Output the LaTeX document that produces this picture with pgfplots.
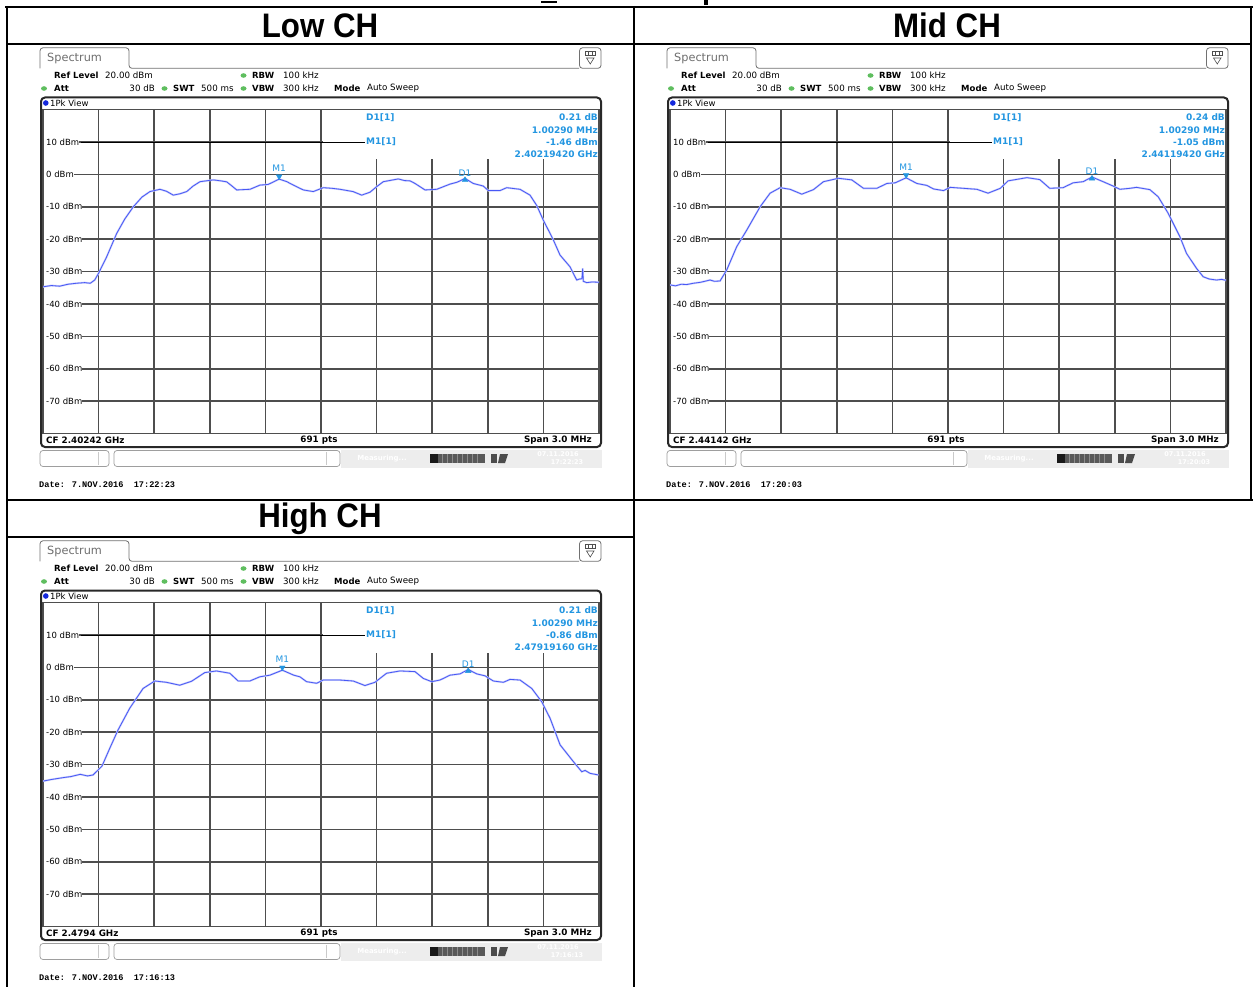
\documentclass[border=0pt]{standalone}
\usepackage{pgfplots}
\pgfplotsset{compat=1.18}
\usepackage{pgfplotstable}
\usepackage{fontspec}
\setmainfont{DejaVu Sans}
\newfontfamily\hdrfont{Liberation Sans}
\newfontfamily\monofont{Liberation Mono}

\definecolor{trace}{RGB}{72,88,245}
\definecolor{mk}{RGB}{35,150,225}
\definecolor{gridc}{RGB}{78,78,78}
\definecolor{led}{RGB}{95,190,95}
\definecolor{framec}{RGB}{40,40,40}
\definecolor{tabtext}{RGB}{110,110,110}
\definecolor{dotblue}{RGB}{20,40,220}

\newcommand\fs[1]{\fontsize{#1}{#1}\selectfont}

% x = division (0..10, 0.3 MHz each), y = level in dBm
\pgfplotstableread{
x y
0.00 -34.7
0.15 -34.3
0.30 -34.5
0.45 -33.9
0.60 -33.6
0.75 -33.4
0.85 -33.6
0.93 -32.6
1.00 -30.5
1.146 -25.4
1.326 -18.2
1.47 -13.8
1.624 -10.0
1.78 -7.0
1.924 -5.3
2.104 -4.6
2.22 -5.2
2.343 -6.4
2.46 -6.0
2.585 -5.3
2.70 -3.6
2.824 -2.25
3.063 -1.7
3.20 -2.0
3.304 -2.3
3.40 -3.6
3.484 -4.8
3.60 -4.7
3.723 -4.6
3.903 -3.3
4.05 -3.1
4.247 -1.46
4.38 -2.2
4.502 -3.3
4.682 -4.8
4.861 -5.3
5.041 -4.1
5.20 -4.3
5.342 -4.6
5.576 -5.3
5.732 -6.4
5.881 -5.5
6.00 -3.8
6.121 -2.25
6.39 -1.4
6.50 -1.9
6.601 -2.0
6.691 -2.8
6.871 -4.8
7.081 -4.6
7.32 -3.0
7.45 -2.4
7.59 -1.25
7.739 -2.8
7.919 -3.6
8.009 -5.0
8.219 -5.0
8.34 -4.1
8.579 -4.6
8.759 -6.4
8.88 -9.6
8.998 -14.1
9.178 -20.2
9.299 -24.9
9.478 -28.5
9.599 -32.6
9.65 -32.3
9.694 -32.2
9.707 -29.0
9.718 -33.0
9.779 -33.4
9.88 -33.2
10.0 -33.3
}\lowdata

\pgfplotstableread{
x y
0.00 -34.1
0.10 -34.4
0.20 -33.9
0.30 -34.0
0.42 -33.6
0.55 -33.3
0.72 -32.6
0.80 -33.0
0.90 -32.9
1.02 -29.5
1.20 -22.3
1.38 -17.2
1.50 -13.6
1.62 -10.0
1.80 -5.8
1.98 -4.1
2.16 -4.6
2.37 -6.1
2.58 -4.7
2.76 -2.25
3.03 -1.2
3.27 -1.7
3.48 -4.3
3.72 -4.3
3.90 -2.8
4.05 -2.6
4.247 -1.05
4.44 -2.8
4.62 -3.4
4.74 -4.5
4.92 -5.0
5.04 -4.0
5.28 -4.3
5.52 -4.6
5.72 -5.8
5.94 -4.3
6.08 -2.0
6.42 -1.0
6.65 -1.6
6.83 -4.3
7.07 -4.1
7.25 -2.6
7.43 -2.25
7.59 -0.81
7.79 -2.25
7.97 -3.6
8.09 -4.6
8.27 -4.3
8.39 -4.0
8.63 -4.7
8.78 -6.9
8.96 -12.0
9.17 -19.2
9.29 -24.4
9.47 -29.0
9.59 -31.6
9.70 -32.3
9.83 -32.6
9.92 -32.4
10.0 -32.7
}\middata

\pgfplotstableread{
x y
0.00 -35.1
0.15 -34.6
0.37 -34.0
0.50 -33.7
0.67 -33.0
0.80 -33.5
0.90 -33.2
1.06 -30.5
1.20 -25.0
1.35 -19.3
1.56 -12.6
1.80 -6.5
2.01 -4.2
2.22 -4.6
2.46 -5.5
2.67 -4.3
2.91 -1.6
3.12 -1.1
3.36 -1.8
3.51 -4.2
3.72 -4.2
3.90 -2.9
4.08 -2.4
4.305 -0.86
4.51 -2.4
4.62 -2.9
4.74 -4.4
4.92 -4.9
5.04 -3.9
5.34 -3.9
5.58 -4.2
5.79 -5.6
5.97 -4.6
6.18 -1.8
6.42 -1.1
6.69 -1.3
6.84 -3.4
6.99 -4.4
7.14 -3.9
7.32 -2.4
7.50 -2.0
7.648 -0.65
7.80 -2.0
7.95 -2.6
8.10 -4.2
8.28 -4.6
8.40 -3.7
8.58 -3.9
8.79 -6.5
8.97 -10.6
9.12 -15.7
9.30 -23.9
9.54 -29.1
9.69 -32.2
9.75 -31.8
9.84 -32.7
9.99 -33.2
}\highdata

\newcommand\panel[3]{%
\begin{scope}[xshift=#1pt,yshift=-#2pt]
\begin{axis}[scale only axis, width=556pt, height=324pt,
  at={(43pt,-433.6pt)}, anchor=south west,
  xmin=0, xmax=10, ymin=-80, ymax=20,
  xtick={0,1,...,10}, ytick={-80,-70,...,20},
  xticklabels={}, yticklabels={}, major tick length=0pt,
  grid=major, major grid style={draw=gridc, line width=1.5pt},
  axis line style={draw=gridc, line width=1.5pt}]
\addplot[trace!30, line width=1.9pt, no marks] table[x=x,y=y] {#3};
\addplot[trace, line width=0.8pt, no marks] table[x=x,y=y] {#3};
\addplot[only marks, mark=triangle*, mark size=3.2pt,
  mark options={yshift=2.6pt, rotate=180, draw=mk, fill=mk},
  nodes near coords={M1},
  every node near coord/.append style={text=mk, font=\fs{9}, anchor=south, yshift=4.5pt, inner sep=0pt}]
  coordinates {(\Mx,\My)};
\addplot[only marks, mark=triangle*, mark size=3.2pt,
  mark options={yshift=-1.5pt, draw=mk, fill=mk},
  nodes near coords={D1},
  every node near coord/.append style={text=mk, font=\fs{9}, anchor=south, yshift=3.5pt, inner sep=0pt}]
  coordinates {(\Dx,\Dy)};
\end{axis}
\begin{scope}[x=1pt,y=-1pt]
  % tab and icon
  \draw[gridc!80, line width=0.8pt, rounded corners=3pt] (40,68.3) -- (40,47.8) -- (129,47.8) -- (129,68.3) -- (579,68.3);
  \draw[gridc!80, line width=0.8pt, rounded corners=3pt] (579.5,47.8) rectangle (601,68.3);
  \draw[gridc, line width=0.6pt] (585,51.5) rectangle (595.5,55.5);
  \draw[gridc, line width=0.6pt] (588.5,51.5) -- (588.5,55.5) (592,51.5) -- (592,55.5);
  \draw[gridc, line width=0.6pt] (586.5,58) -- (594,58) -- (590.25,64) -- cycle;
  \node[anchor=west, text=tabtext, font=\fs{11.3}, inner sep=0pt] at (47,58.5) {Spectrum};
  % settings
  \node[anchor=west, inner sep=0pt, font=\fs{8.5}\bfseries] at (54,75.5) {Ref Level};
  \node[anchor=west, inner sep=0pt, font=\fs{8.7}] at (105,75.5) {20.00 dBm};
  \fill[led] (243.5,75.5) ellipse (3 and 2.3);
  \node[anchor=west, inner sep=0pt, font=\fs{8.5}\bfseries] at (252,75.5) {RBW};
  \node[anchor=west, inner sep=0pt, font=\fs{8.7}] at (283,75.5) {100 kHz};
  \fill[led] (44,88.5) ellipse (3 and 2.3);
  \node[anchor=west, inner sep=0pt, font=\fs{8.5}\bfseries] at (54,88.5) {Att};
  \node[anchor=east, inner sep=0pt, font=\fs{8.7}] at (155,88.5) {30 dB};
  \fill[led] (164.5,88.5) ellipse (3 and 2.3);
  \node[anchor=west, inner sep=0pt, font=\fs{8.5}\bfseries] at (173,88.5) {SWT};
  \node[anchor=west, inner sep=0pt, font=\fs{8.7}] at (201,88.5) {500 ms};
  \fill[led] (243.5,88.5) ellipse (3 and 2.3);
  \node[anchor=west, inner sep=0pt, font=\fs{8.5}\bfseries] at (252,88.5) {VBW};
  \node[anchor=west, inner sep=0pt, font=\fs{8.7}] at (283,88.5) {300 kHz};
  \node[anchor=west, inner sep=0pt, font=\fs{8.5}\bfseries] at (334,88.5) {Mode};
  \node[anchor=west, inner sep=0pt, font=\fs{8.7}] at (367,88.5) {Auto Sweep};
  % view label
  \fill[dotblue] (45.8,103) circle (2.8);
  \node[anchor=west, inner sep=0pt, font=\fs{8.5}] at (50,103) {1Pk View};
  % level labels
  \foreach \v/\yy in {10/142.0, 0/174.4, -10/206.8, -20/239.2, -30/271.6, -40/304.0, -50/336.4, -60/368.8, -70/401.2}
    \node[anchor=west, fill=white, inner xsep=0pt, inner ysep=1.2pt, font=\fs{8.5}] at (43.4,\yy) {\hspace{2.6pt}\v\ dBm\hspace{1.2pt}};
  % marker table
  \fill[white] (322.9,110.4) rectangle (598.2,159.5);
  \draw[black, line width=0.9pt] (81,142) -- (365,142);
  \node[anchor=west, inner sep=0pt, text=mk, font=\fs{9}\bfseries] at (366,117.5) {D1[1]};
  \node[anchor=west, inner sep=0pt, text=mk, font=\fs{9}\bfseries] at (366,142) {M1[1]};
  \node[anchor=east, inner sep=0pt, text=mk, font=\fs{9}\bfseries] at (598,117.5) {\DdB\ dB};
  \node[anchor=east, inner sep=0pt, text=mk, font=\fs{9}\bfseries] at (598,129.8) {1.00290 MHz};
  \node[anchor=east, inner sep=0pt, text=mk, font=\fs{9}\bfseries] at (598,142) {\My\ dBm};
  \node[anchor=east, inner sep=0pt, text=mk, font=\fs{9}\bfseries] at (598,154.3) {\Mfreq\ GHz};
  % frame and status bar
  \draw[framec, line width=2pt, rounded corners=4pt] (41,97.5) rectangle (601,447);
  \node[anchor=west, inner sep=0pt, font=\fs{8.8}\bfseries] at (46,440.5) {CF \CF\ GHz};
  \node[inner sep=0pt, font=\fs{8.8}\bfseries] at (319,440.5) {691 pts};
  \node[anchor=east, inner sep=0pt, font=\fs{8.8}\bfseries] at (592,440.5) {Span 3.0 MHz};
  % softkey bar
  \draw[gridc!55, line width=0.7pt, rounded corners=3pt] (40,450.5) rectangle (109,466.5);
  \draw[gridc!30, line width=0.6pt] (98,452) -- (98,465);
  \draw[gridc!55, line width=0.7pt, rounded corners=3pt] (114,450.5) rectangle (340,466.5);
  \draw[gridc!30, line width=0.6pt] (326,452) -- (326,465);
  \fill[black!7] (341,450) rectangle (602,467.5);
  \node[text=white, font=\fs{7}\bfseries, inner sep=0pt] at (382,458.5) {Measuring...};
  \fill[black!65] (430,454) rectangle (485,463);
  \fill[black!90] (430,454) rectangle (438,463);
  \foreach \q in {442,447,452,457,462,467,472,477} \draw[black!45, line width=0.5pt] (\q,454) -- (\q,463);
  \fill[black!70] (491,454) rectangle (497,463);
  \fill[black!70] (500,454) -- (508,454) -- (505,463) -- (498,463) -- cycle;
  \node[text=white, font=\fs{6.5}\bfseries, inner sep=0pt] at (558,454) {07.11.2016};
  \node[text=white, font=\fs{6.5}\bfseries, inner sep=0pt] at (567,462.5) {\Date};
  % date line
  \node[anchor=west, inner sep=0pt, font=\monofont\bfseries\fs{8.6}] at (39,484.5) {Date: 7.NOV.2016\ \ \Date};
\end{scope}
\end{scope}}

\begin{document}
\begin{tikzpicture}
\path[use as bounding box] (0pt,0pt) rectangle (1253pt,-987pt);
\begin{scope}[x=1pt,y=-1pt]
  \fill[white] (0,0) rectangle (1253,987);
  \fill[black] (541,1.2) rectangle (557,3.2);
  \fill[black] (704,0) rectangle (708,5);
\end{scope}

\def\Mx{4.247}\def\My{-1.46}\def\Dx{7.59}\def\Dy{-1.25}
\def\DdB{0.21}\def\Mfreq{2.40219420}\def\CF{2.40242}\def\Date{17:22:23}
\panel{0}{0}{\lowdata}

\def\Mx{4.247}\def\My{-1.05}\def\Dx{7.59}\def\Dy{-0.81}
\def\DdB{0.24}\def\Mfreq{2.44119420}\def\CF{2.44142}\def\Date{17:20:03}
\panel{627}{0}{\middata}

\def\Mx{4.305}\def\My{-0.86}\def\Dx{7.648}\def\Dy{-0.65}
\def\DdB{0.21}\def\Mfreq{2.47919160}\def\CF{2.4794}\def\Date{17:16:13}
\panel{0}{493}{\highdata}

\begin{scope}[x=1pt,y=-1pt]
  \node[font=\hdrfont\bfseries\fs{34}, inner sep=0pt] at (320,25.5) {\scalebox{0.92}[1]{Low CH}};
  \node[font=\hdrfont\bfseries\fs{34}, inner sep=0pt] at (947,25.5) {\scalebox{0.92}[1]{Mid CH}};
  \node[font=\hdrfont\bfseries\fs{34}, inner sep=0pt] at (320,518.5) {\scalebox{0.92}[1]{High CH}};
  \draw[black, line width=2.2pt] (5,7) -- (1253,7);
  \draw[black, line width=1.8pt] (7,6) -- (7,987);
  \draw[black, line width=1.8pt] (634,6) -- (634,987);
  \draw[black, line width=1.8pt] (1251,6) -- (1251,500);
  \draw[black, line width=1.8pt] (6,44) -- (1252,44);
  \draw[black, line width=1.8pt] (6,500) -- (1253,500);
  \draw[black, line width=1.8pt] (6,537) -- (635,537);
\end{scope}
\end{tikzpicture}
\end{document}
